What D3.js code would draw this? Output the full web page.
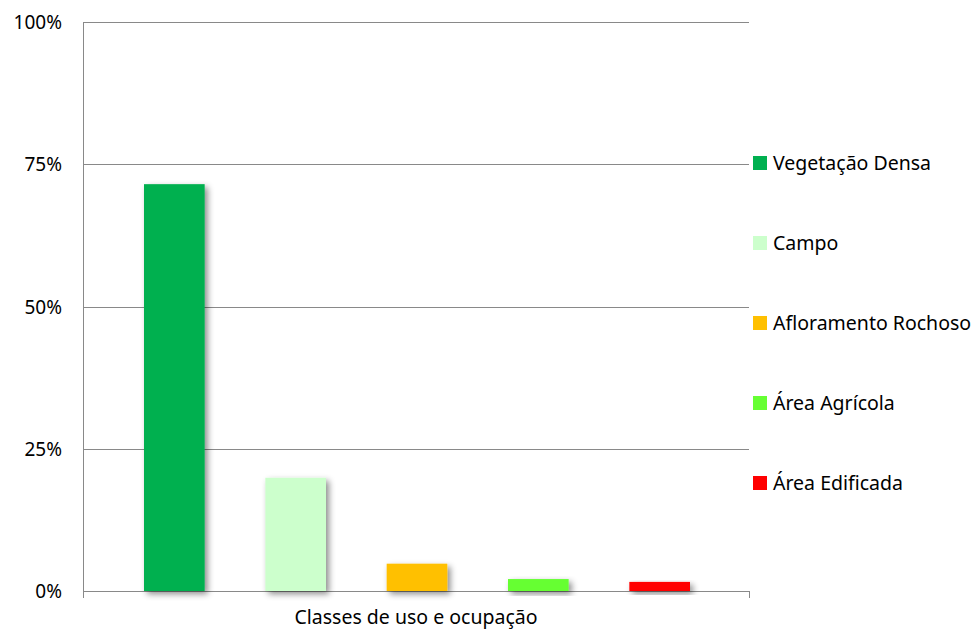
<!DOCTYPE html>
<html>
<head>
<meta charset="utf-8">
<script src="https://cdn.jsdelivr.net/npm/d3@7"></script>
<style>
    body { margin: 0; background: #fff; }
    text { font-family: "Noto Sans", "Open Sans", sans-serif; fill: #000; }
</style>
</head>
<body>
<svg id="chart" width="978" height="632"></svg>
<script>
// categories (series) and their shares
var classes = ['Vegetação Densa', 'Campo', 'Afloramento Rochoso', 'Área Agrícola', 'Área Edificada'];
var shares = [0.715, 0.199, 0.048, 0.021, 0.016];
var colors = ['#00b050', '#ccffcc', '#ffc000', '#66ff33', '#ff0000'];
var yTicks = [0, 0.25, 0.5, 0.75, 1];
var xTitle = 'Classes de uso e ocupação';

var margin = {left: 83, right: 229, top: 22, bottom: 41},
    width = 978 - margin.left - margin.right,
    height = 632 - margin.top - margin.bottom;

var svg = d3.select('#chart');

// drop shadow like the spreadsheet bars
var defs = svg.append('defs');
var shadow = defs.append('filter')
    .attr('id', 'shadow')
    .attr('x', '-20%').attr('y', '-20%')
    .attr('width', '160%').attr('height', '160%');
shadow.append('feDropShadow')
    .attr('dx', 3).attr('dy', 3)
    .attr('stdDeviation', 3)
    .attr('flood-color', '#000')
    .attr('flood-opacity', 0.45);

var g = svg.append('g').attr('transform', 'translate(' + margin.left + ',' + margin.top + ')');

var y = d3.scaleLinear().domain([0, 1]).range([height, 0]);

// bars sit in one group centred on the plot
var x = d3.scaleBand()
    .domain(classes)
    .range([61, width - 59])
    .paddingInner(0.5);

// gridlines
g.selectAll('line.grid')
    .data(yTicks)
    .enter().append('line')
    .attr('class', 'grid')
    .attr('x1', 0)
    .attr('x2', width)
    .attr('y1', function (d) { return Math.round(y(d)) + 0.5; })
    .attr('y2', function (d) { return Math.round(y(d)) + 0.5; })
    .attr('stroke', '#898989')
    .attr('stroke-width', 1);

// y axis
var yAxis = d3.axisLeft(y)
    .tickValues(yTicks)
    .tickFormat(d3.format('.0%'))
    .tickSize(0)
    .tickPadding(21);

var ya = g.append('g').call(yAxis);
ya.select('.domain').remove();
ya.selectAll('text')
    .style('font-size', '19px')
    .attr('dy', '0.35em');

g.append('line')
    .attr('x1', 0.5).attr('x2', 0.5)
    .attr('y1', 0).attr('y2', height + 7)
    .attr('stroke', '#898989');
g.append('line')
    .attr('x1', width + 0.5).attr('x2', width + 0.5)
    .attr('y1', height).attr('y2', height + 7)
    .attr('stroke', '#898989');

// bars
g.selectAll('rect.bar')
    .data(shares)
    .enter().append('rect')
    .attr('class', 'bar')
    .attr('x', function (d, i) { return x(classes[i]); })
    .attr('width', x.bandwidth())
    .attr('y', function (d) { return y(d); })
    .attr('height', function (d) { return height - y(d); })
    .attr('fill', function (d, i) { return colors[i]; })
    .attr('filter', 'url(#shadow)');

// axis title
svg.append('text')
    .attr('x', margin.left + width / 2)
    .attr('y', 624)
    .attr('text-anchor', 'middle')
    .style('font-size', '19.5px')
    .text(xTitle);

// legend
var legend = svg.selectAll('g.legend')
    .data(classes)
    .enter().append('g')
    .attr('class', 'legend')
    .attr('transform', function (d, i) { return 'translate(753,' + (163 + i * 80) + ')'; });

legend.append('rect')
    .attr('x', 0).attr('y', -7)
    .attr('width', 14).attr('height', 14)
    .attr('fill', function (d, i) { return colors[i]; });

legend.append('text')
    .attr('x', 20)
    .attr('dy', '0.35em')
    .style('font-size', '19.5px')
    .text(function (d) { return d; });
</script>
</body>
</html>
